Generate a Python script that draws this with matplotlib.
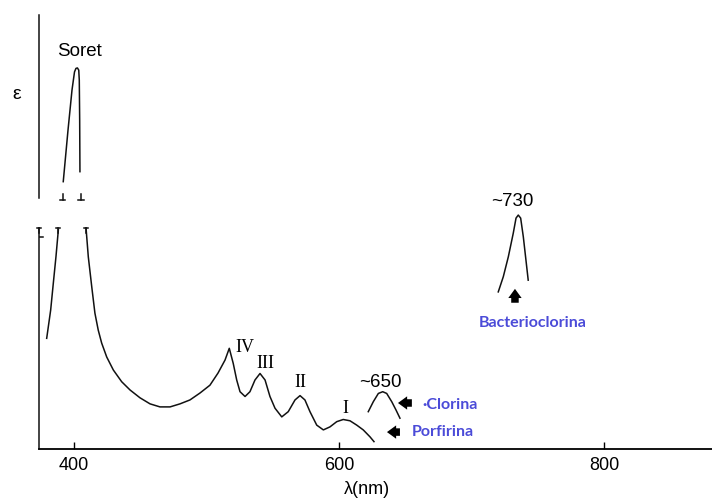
import matplotlib
matplotlib.use("Agg")
import matplotlib.pyplot as plt

plt.rcParams["font.family"] = ["Liberation Sans", "DejaVu Sans"]

# ---- data (y in arbitrary epsilon units) ----
soret_wl = [391.9, 395.5, 398.5, 400.4, 401.5, 402.6, 403.6, 404.0, 404.3, 404.5]
soret_eps = [61.6, 73.5, 82.7, 86.9, 87.7, 87.8, 87.3, 85.0, 75.8, 63.9]

left_leg_wl = [388.2, 386.4, 384.4, 382.4, 379.4]
left_leg_eps = [50.5, 44.3, 38.2, 32.0, 25.5]

porf_wl = [409.1, 410.8, 413.4, 415.8, 418.3, 420.9, 424.7, 429.7, 436.0, 442.3,
           449.8, 457.4, 464.9, 472.5, 480.0, 487.5, 495.1, 502.6, 508.7, 514.0,
           517.2, 520.2, 522.8, 525.3, 529.1, 532.8, 536.6, 540.4, 544.2, 547.9,
           551.7, 556.8, 561.7, 566.8, 570.6, 574.3, 578.1, 583.2, 588.2, 593.2,
           598.3, 603.2, 608.3, 613.4, 618.3, 623.4, 626.4]
porf_eps = [50.9, 44.3, 37.4, 31.3, 27.4, 24.4, 21.2, 18.2, 15.5, 13.6,
            11.8, 10.4, 9.7, 9.7, 10.4, 11.3, 12.9, 14.7, 17.5, 20.5,
            23.2, 19.7, 15.9, 13.2, 12.1, 13.2, 15.9, 17.4, 15.9, 12.1,
            9.4, 7.4, 8.6, 11.3, 12.3, 11.3, 8.6, 5.5, 4.4, 5.1,
            6.3, 6.8, 6.5, 5.5, 4.4, 2.8, 1.7]

clor_wl = [622.1, 625.9, 629.7, 633.0, 636.0, 639.8, 643.0, 646.0]
clor_eps = [8.6, 10.9, 12.8, 13.2, 12.8, 10.9, 9.0, 7.1]

bact_wl = [720.2, 724.0, 727.8, 731.5, 733.6, 735.3, 737.1, 739.1, 741.1, 742.8]
bact_eps = [36.2, 39.7, 44.3, 49.7, 53.2, 53.9, 53.2, 48.9, 43.5, 38.9]

bands = ["IV", "III", "II", "I"]
band_wl = [529.0, 544.2, 570.6, 604.5]
band_eps = [23.5, 19.8, 15.4, 9.4]

xticks = [400, 600, 800]

BLUE = "#4b4bd8"
LINE = dict(color="#111111", lw=1.1)

fig = plt.figure(figsize=(7.12, 5.0), dpi=100)
ax = fig.add_axes([39 / 712, 51 / 500, 673 / 712, 434 / 500])
ax.set_xlim(373.6, 881.5)
ax.set_ylim(0, 100)

for s in ["top", "right", "left"]:
    ax.spines[s].set_visible(False)
ax.spines["bottom"].set_linewidth(1.3)

# broken epsilon axis drawn by hand
ax.plot([373.6, 373.6], [0, 50.9], clip_on=False, **LINE)
ax.plot([373.6, 373.6], [57.8, 99.9], clip_on=False, **LINE)
for xb in [373.6, 388.2, 409.1]:
    ax.plot([xb - 1.5, xb + 1.5], [50.9, 50.9], clip_on=False, **LINE)
    ax.plot([xb, xb], [50.9, 49.8], clip_on=False, **LINE)
for xb in [391.4, 405.4]:
    ax.plot([xb - 2.0, xb + 2.0], [57.4, 57.4], clip_on=False, **LINE)
    ax.plot([xb, xb], [57.4, 58.8], clip_on=False, **LINE)
ax.plot([373.6, 376.5], [48.8, 48.8], **LINE)

ax.plot(soret_wl, soret_eps, **LINE)
ax.plot(left_leg_wl, left_leg_eps, **LINE)
ax.plot(porf_wl, porf_eps, **LINE)
ax.plot(clor_wl, clor_eps, **LINE)
ax.plot(bact_wl, bact_eps, **LINE)

ax.set_xticks(xticks)
ax.set_yticks([])
ax.tick_params(axis="x", direction="in", length=5, width=1, labelsize=13, pad=6)
ax.set_xlabel("λ(nm)", fontsize=13, va="center")
ax.xaxis.set_label_coords(0.487, -0.094)

ax.text(-0.033, 0.816, "ε", transform=ax.transAxes, fontsize=14,
        ha="center", va="center")
ax.text(404.5, 91.5, "Soret", fontsize=13.5, ha="center", va="center")
for lab, xw, ye in zip(bands, band_wl, band_eps):
    ax.text(xw, ye, lab, fontsize=13, family="Liberation Serif",
            ha="center", va="center")
ax.text(631.0, 15.4, "~650", fontsize=13.5, ha="center", va="center")
ax.text(730.6, 57.1, "~730", fontsize=13.5, ha="center", va="center")

arrow = dict(arrowstyle="simple,head_length=0.55,head_width=0.8,tail_width=0.45",
             color="black", lw=0, shrinkA=0, shrinkB=0, mutation_scale=12)
ax.annotate("", xy=(644.5, 10.6), xytext=(655.0, 10.6), arrowprops=arrow)
ax.annotate("", xy=(636.2, 3.9), xytext=(646.0, 3.9), arrowprops=arrow)
ax.annotate("", xy=(732.8, 36.9), xytext=(732.8, 33.7), arrowprops=arrow)

lab_font = dict(family="Lato", fontweight="bold", fontsize=11.5, color=BLUE,
                va="center")
ax.text(663.0, 10.1, "·Clorina", ha="left", **lab_font)
ax.text(655.0, 3.9, "Porfirina", ha="left", **lab_font)
ax.text(746.0, 29.0, "Bacterioclorina", ha="center", **lab_font)

fig.savefig("out.png", dpi=100)
